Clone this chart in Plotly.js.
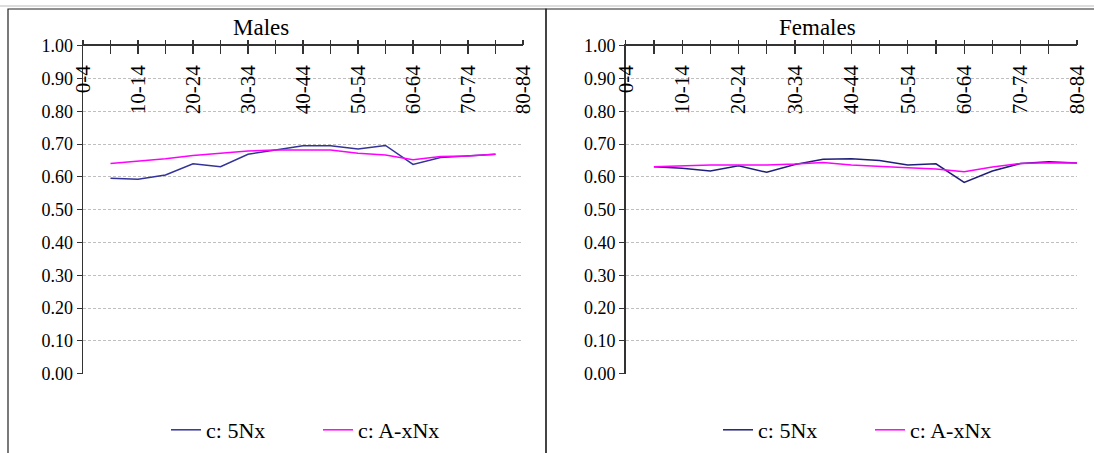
<!DOCTYPE html>
<html>
<head>
<meta charset="utf-8">
<script src="https://cdn.plot.ly/plotly-3.0.1.min.js"></script>
<style>html,body{margin:0;padding:0;background:#fff;}#chart{width:1094px;height:453px;}</style>
</head>
<body>
<div id="chart"></div>
<script>
// ---- data ----
const ageGroups = ['0-4','5-9','10-14','15-19','20-24','25-29','30-34','35-39','40-44','45-49','50-54','55-59','60-64','65-69','70-74','75-79','80-84'];
const maleAges = ['5-9','10-14','15-19','20-24','25-29','30-34','35-39','40-44','45-49','50-54','55-59','60-64','65-69','70-74','75-79'];
const male5Nx  = [0.596,0.593,0.606,0.640,0.631,0.669,0.682,0.695,0.695,0.685,0.696,0.638,0.659,0.664,0.669];
const maleAxNx = [0.641,0.648,0.655,0.665,0.671,0.679,0.682,0.682,0.682,0.672,0.667,0.652,0.662,0.664,0.669];
const femaleAges = ['5-9','10-14','15-19','20-24','25-29','30-34','35-39','40-44','45-49','50-54','55-59','60-64','65-69','70-74','75-79','80-84'];
const female5Nx  = [0.631,0.626,0.618,0.634,0.614,0.638,0.654,0.655,0.650,0.636,0.640,0.583,0.618,0.641,0.646,0.642];
const femaleAxNx = [0.631,0.634,0.636,0.636,0.636,0.639,0.644,0.636,0.633,0.628,0.624,0.616,0.630,0.641,0.643,0.642];
const seriesNames = ['c: 5Nx','c: A-xNx'];
const panelTitles = ['Males','Females'];
const yTicks = [0,0.1,0.2,0.3,0.4,0.5,0.6,0.7,0.8,0.9,1.0];

// ---- layout helpers ----
const W = 1094, H = 453;
const px = v => v / W;
const py = v => (H - v) / H;
const serif = "'Liberation Serif', 'Times New Roman', serif";
const blue = '#333399', navy = '#1F1F7A', pink = '#FF00FF', axisCol = '#333333';
const tickText = ageGroups.map((c,i) => i % 2 === 0 ? c : '');

function xBase(domain) {
  return {
    type:'category', categoryorder:'array', categoryarray: ageGroups,
    range:[0,16], domain: domain, tickvals: ageGroups,
    showgrid:false, zeroline:false, fixedrange:true
  };
}
function yAxis(anchor) {
  return {
    range:[0,1], domain:[py(373.7), py(45.7)], anchor: anchor,
    tickvals: yTicks, tickformat:'.2f', ticks:'outside', ticklen:5, tickcolor:axisCol,
    showline:true, linecolor:axisCol, linewidth:1.5,
    showgrid:true, gridcolor:'#BFBFBF', gridwidth:1, griddash:'3px,2px',
    zeroline:false, tickfont:{family:serif, size:18, color:'#000'}, fixedrange:true
  };
}

const maleDom = [px(83), px(523)];
const femDom = [px(625.7), px(1077)];

// axis line with ticks below
const xMain = (dom, anchor) => Object.assign(xBase(dom), {
  anchor: anchor, side:'top', showline:true, linecolor:axisCol, linewidth:1.5,
  ticks:'inside', ticklen:8, tickcolor:axisCol, tickwidth:1.2, showticklabels:false
});
// ticks above the line
const xOut = (dom, anchor, over) => Object.assign(xBase(dom), {
  anchor: anchor, overlaying: over, side:'top', showline:false,
  ticks:'outside', ticklen:5, tickcolor:axisCol, tickwidth:1.2, showticklabels:false
});
// rotated labels hanging below the axis line
const xLab = (dom, over) => Object.assign(xBase(dom), {
  anchor:'free', position: py(60), overlaying: over, side:'bottom', showline:false,
  ticks:'', ticktext: tickText, tickangle:-90,
  tickfont:{family:serif, size:21, color:'#000'}
});

const dummy = (xa, ya) => ({x:[ageGroups[0]], y:[null], xaxis:xa, yaxis:ya, showlegend:false, hoverinfo:'skip', type:'scatter', mode:'lines'});

const traces = [
  {x: maleAges, y: male5Nx, name: seriesNames[0], type:'scatter', mode:'lines', line:{color:blue, width:1.5}, xaxis:'x', yaxis:'y', legend:'legend'},
  {x: maleAges, y: maleAxNx, name: seriesNames[1], type:'scatter', mode:'lines', line:{color:pink, width:1.5}, xaxis:'x', yaxis:'y', legend:'legend'},
  {x: femaleAges, y: female5Nx, name: seriesNames[0], type:'scatter', mode:'lines', line:{color:navy, width:1.5}, xaxis:'x2', yaxis:'y2', legend:'legend2'},
  {x: femaleAges, y: femaleAxNx, name: seriesNames[1], type:'scatter', mode:'lines', line:{color:pink, width:1.5}, xaxis:'x2', yaxis:'y2', legend:'legend2'},
  dummy('x3','y'), dummy('x4','y2'), dummy('x5','y'), dummy('x6','y2')
];

const legendBase = {
  orientation:'h', xanchor:'center', yanchor:'middle', y: py(430),
  font:{family:serif, size:22, color:'#000'}, bgcolor:'rgba(0,0,0,0)',
  itemwidth:30, entrywidth:107, tracegroupgap:0
};

const layout = {
  width: W, height: H, margin:{l:0,r:0,t:0,b:0},
  paper_bgcolor:'#fff', plot_bgcolor:'#fff',
  xaxis: xMain(maleDom, 'y'),
  xaxis2: xMain(femDom, 'y2'),
  xaxis3: xOut(maleDom, 'y', 'x'),
  xaxis4: xOut(femDom, 'y2', 'x2'),
  xaxis5: xLab(maleDom, 'x'),
  xaxis6: xLab(femDom, 'x2'),
  yaxis: yAxis('x'),
  yaxis2: yAxis('x2'),
  legend: Object.assign({}, legendBase, {x: px(318)}),
  legend2: Object.assign({}, legendBase, {x: px(870)}),
  showlegend: true,
  annotations: [
    {text: panelTitles[0], xref:'paper', yref:'paper', x: px(261), y: py(28), xanchor:'center', yanchor:'middle', showarrow:false, font:{family:serif, size:23, color:'#000'}},
    {text: panelTitles[1], xref:'paper', yref:'paper', x: px(817), y: py(28), xanchor:'center', yanchor:'middle', showarrow:false, font:{family:serif, size:23, color:'#000'}}
  ],
  shapes: [
    {type:'rect', xref:'paper', yref:'paper', x0: px(8), x1: px(546), y0: py(460), y1: py(9), line:{color:'#222', width:1.2}, fillcolor:'rgba(0,0,0,0)', layer:'below'},
    {type:'rect', xref:'paper', yref:'paper', x0: px(546), x1: px(1100), y0: py(460), y1: py(9), line:{color:'#222', width:1.2}, fillcolor:'rgba(0,0,0,0)', layer:'below'},
    {type:'line', xref:'paper', yref:'paper', x0: 0, x1: 1, y0: py(6), y1: py(6), line:{color:'#BBBBBB', width:1}}
  ]
};

Plotly.newPlot('chart', traces, layout, {staticPlot:true, displayModeBar:false});
</script>
</body>
</html>
